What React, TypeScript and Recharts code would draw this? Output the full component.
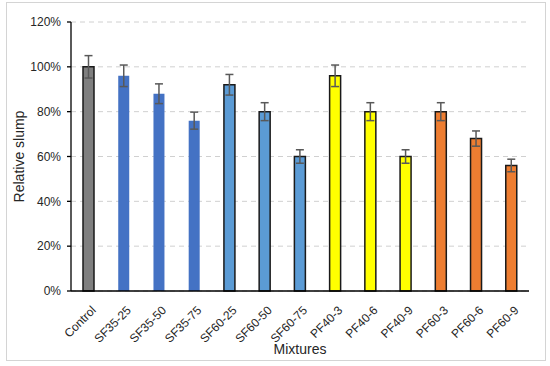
import React from 'react';
import { BarChart, Bar, XAxis, YAxis, CartesianGrid, ErrorBar, Cell } from 'recharts';

const categories = ['Control', 'SF35-25', 'SF35-50', 'SF35-75', 'SF60-25', 'SF60-50', 'SF60-75', 'PF40-3', 'PF40-6', 'PF40-9', 'PF60-3', 'PF60-6', 'PF60-9'];
const groups = ['Control', 'SF35', 'SF35', 'SF35', 'SF60', 'SF60', 'SF60', 'PF40', 'PF40', 'PF40', 'PF60', 'PF60', 'PF60'];
const relativeSlump = [100, 96, 88, 76, 92, 80, 60, 96, 80, 60, 80, 68, 56];
const errors = [5, 4.8, 4.4, 3.8, 4.6, 4, 3, 4.8, 4, 3, 4, 3.4, 2.8];
const yTicks = [0, 20, 40, 60, 80, 100, 120];

const groupStyle: Record<string, { fill: string; stroke: string }> = {
  Control: { fill: '#7f7f7f', stroke: '#1a1a1a' },
  SF35: { fill: '#4472c4', stroke: 'none' },
  SF60: { fill: '#5b9bd5', stroke: '#1a1a1a' },
  PF40: { fill: '#ffff00', stroke: '#1a1a1a' },
  PF60: { fill: '#ed7d31', stroke: '#1a1a1a' },
};

const data = categories.map((c, i) => ({ name: c, value: relativeSlump[i], err: errors[i], group: groups[i] }));

const FONT = '"Liberation Sans", Arial, sans-serif';

const XTick = (props: any) => {
  const { x, y, payload } = props;
  return (
    <g transform={`translate(${x + 5},${y + 9})`}>
      <text x={0} y={0} dy="0.35em" textAnchor="end" transform="rotate(-45)" fontSize={12} fill="#262626" fontFamily={FONT}>
        {payload.value}
      </text>
    </g>
  );
};

export default function App() {
  return (
    <div style={{ position: 'absolute', left: 0, top: 0, width: 550, height: 366, background: '#fff' }}>
      <div style={{ position: 'absolute', left: 6, top: 2, width: 538, height: 357, border: '1px solid #d4d4d4' }} />
      <div style={{ position: 'absolute', left: 0, top: 0 }}>
        <BarChart width={550} height={366} data={data} margin={{ top: 22, right: 21, bottom: 7, left: 10 }} barSize={11}>
          <CartesianGrid vertical={false} stroke="#d0d0d0" strokeDasharray="5 4" />
          <XAxis
            dataKey="name"
            interval={0}
            tickLine={false}
            axisLine={{ stroke: '#000', strokeWidth: 1.3 }}
            height={68}
            tick={<XTick />}
            label={{ value: 'Mixtures', position: 'insideBottom', offset: 5, style: { fontSize: 14, fill: '#262626', fontFamily: FONT } }}
          />
          <YAxis
            domain={[0, 120]}
            ticks={yTicks}
            width={61}
            tickSize={4}
            tickMargin={6}
            tickFormatter={(v: number) => `${v}%`}
            axisLine={{ stroke: '#000', strokeWidth: 1.3 }}
            tickLine={{ stroke: '#000', strokeWidth: 1.3 }}
            tick={{ fontSize: 12, fill: '#262626', fontFamily: FONT }}
            label={{ value: 'Relative slump', angle: -90, position: 'insideLeft', offset: 9, style: { textAnchor: 'middle', fontSize: 14, fill: '#262626', fontFamily: FONT } }}
          />
          <Bar dataKey="value" isAnimationActive={false} strokeWidth={1.5}>
            {data.map((d, i) => (
              <Cell key={i} fill={groupStyle[d.group].fill} stroke={groupStyle[d.group].stroke} />
            ))}
            <ErrorBar dataKey="err" width={4} stroke="#595959" strokeWidth={1.5} direction="y" />
          </Bar>
        </BarChart>
      </div>
    </div>
  );
}
